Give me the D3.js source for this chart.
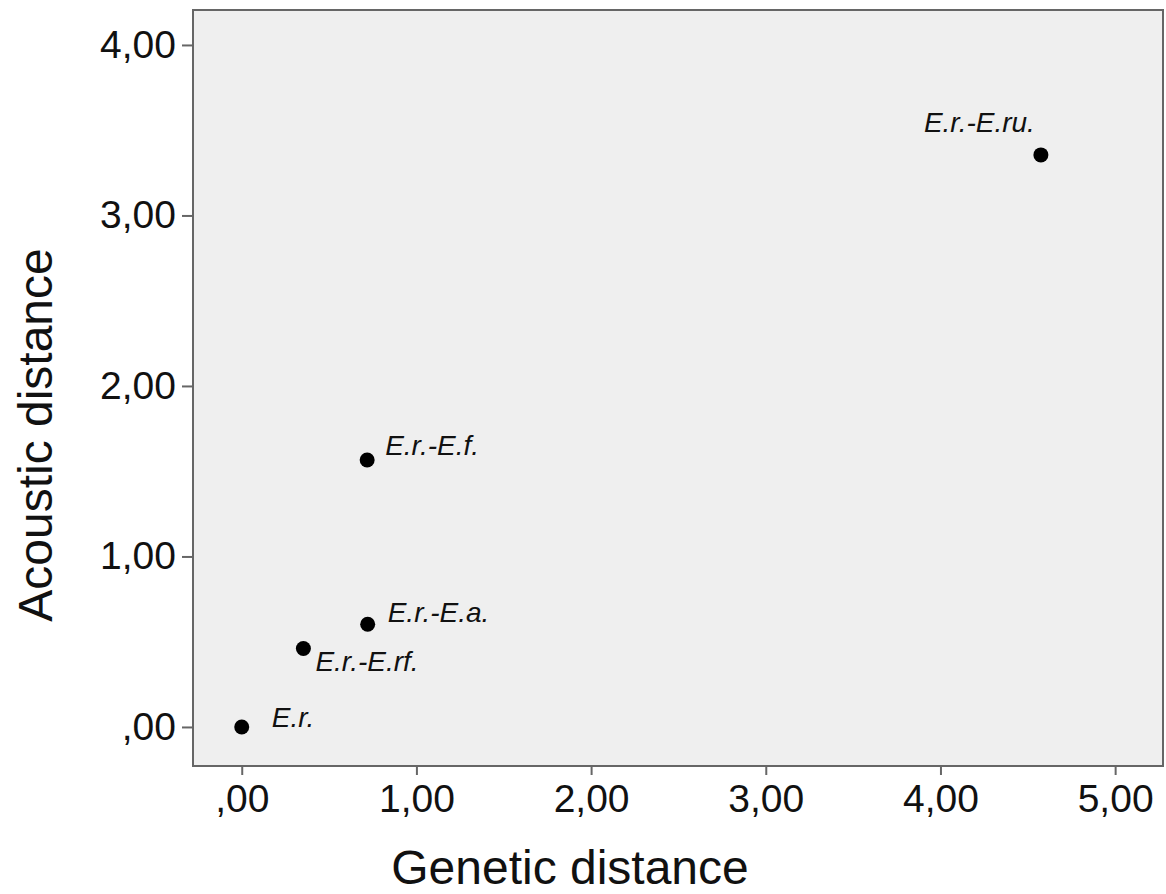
<!DOCTYPE html>
<html>
<head>
<meta charset="utf-8">
<script src="https://cdn.jsdelivr.net/npm/d3@7"></script>
<style>
  html, body { margin: 0; padding: 0; background: #ffffff; }
  svg { display: block; font-family: "Liberation Sans", Arial, Helvetica, sans-serif; }
</style>
</head>
<body>
<svg id="chart" width="1166" height="894"></svg>
<script>
// Pairwise distances between taxa
const pairLabels   = ["E.r.", "E.r.-E.rf.", "E.r.-E.a.", "E.r.-E.f.", "E.r.-E.ru."];
const geneticDist  = [0.00, 0.353, 0.721, 0.718, 4.575];
const acousticDist = [0.00, 0.460, 0.602, 1.566, 3.355];

// Axis ticks
const xTicks = [0, 1, 2, 3, 4, 5];
const yTicks = [0, 1, 2, 3, 4];

// Label placement relative to each point: [dx, dy, anchor]
const labelPlacement = [
  [30, 0, "start"],
  [12, 22, "start"],
  [20, -2, "start"],
  [18, -5, "start"],
  [-6, -23, "end"]
];

const svg = d3.select("#chart");
const plot = { left: 193, top: 10, right: 1163, bottom: 766 };

const x = d3.scaleLinear().domain([-0.279, 5.274]).range([plot.left, plot.right]);
const y = d3.scaleLinear().domain([-0.229, 4.205]).range([plot.bottom, plot.top]);

// SPSS-style decimal comma, no leading zero
const fmt = d => {
  let s = d3.format(".2f")(d).replace(".", ",");
  if (s.startsWith("0,")) s = s.slice(1);
  return s;
};

// Plot background
svg.append("rect")
  .attr("x", plot.left).attr("y", plot.top)
  .attr("width", plot.right - plot.left).attr("height", plot.bottom - plot.top)
  .attr("fill", "#efefef");

// Axes
const gx = svg.append("g")
  .attr("transform", `translate(0,${plot.bottom})`)
  .call(d3.axisBottom(x).tickValues(xTicks).tickFormat(fmt).tickSize(9).tickPadding(9));
const gy = svg.append("g")
  .attr("transform", `translate(${plot.left},0)`)
  .call(d3.axisLeft(y).tickValues(yTicks).tickFormat(fmt).tickSize(11).tickPadding(6));

[gx, gy].forEach(g => {
  g.select(".domain").remove();
  g.selectAll(".tick line").attr("stroke", "#666").attr("stroke-width", 2);
  g.selectAll(".tick text")
    .attr("fill", "#111")
    .style("font-size", "39px")
    .style("font-family", "'Liberation Sans', Arial, sans-serif");
});

// Frame
svg.append("rect")
  .attr("x", plot.left).attr("y", plot.top)
  .attr("width", plot.right - plot.left).attr("height", plot.bottom - plot.top)
  .attr("fill", "none")
  .attr("stroke", "#666")
  .attr("stroke-width", 2);

// Points
const pts = pairLabels.map((lab, i) => ({ lab, gx: geneticDist[i], ay: acousticDist[i], pl: labelPlacement[i] }));

svg.append("g").selectAll("circle")
  .data(pts).join("circle")
  .attr("cx", d => x(d.gx))
  .attr("cy", d => y(d.ay))
  .attr("r", 7.5)
  .attr("fill", "#000");

svg.append("g").selectAll("text")
  .data(pts).join("text")
  .attr("x", d => x(d.gx) + d.pl[0])
  .attr("y", d => y(d.ay) + d.pl[1])
  .attr("text-anchor", d => d.pl[2])
  .style("font-style", "italic")
  .style("font-size", "28px")
  .attr("fill", "#111")
  .text(d => d.lab);

// Axis titles
svg.append("text")
  .attr("x", 570).attr("y", 884)
  .attr("text-anchor", "middle")
  .style("font-size", "48px")
  .attr("fill", "#111")
  .text("Genetic distance");

svg.append("text")
  .attr("transform", "translate(52,435) rotate(-90)")
  .attr("text-anchor", "middle")
  .style("font-size", "48px")
  .attr("fill", "#111")
  .text("Acoustic distance");
</script>
</body>
</html>
